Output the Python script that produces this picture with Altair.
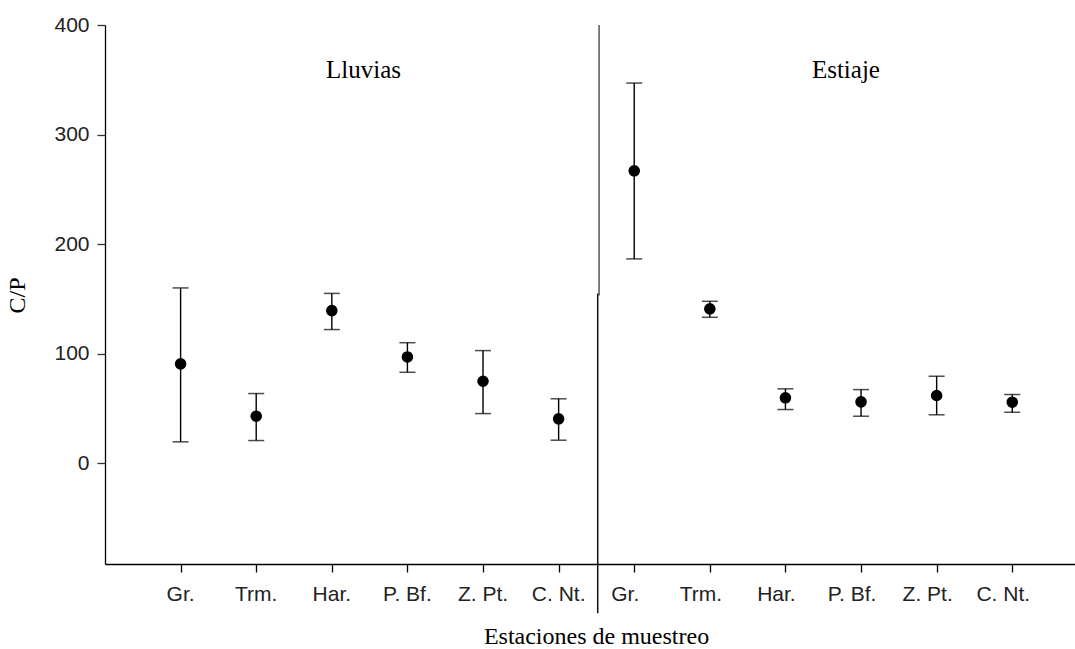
import altair as alt
import pandas as pd

# Sampling stations, repeated for each season
stations = ["Gr.", "Trm.", "Har.", "P. Bf.", "Z. Pt.", "C. Nt."]
seasons = ["Lluvias", "Estiaje"]

# C/P ratio: mean and error-bar limits per station
mean_lluvias = [90.7, 42.9, 139.3, 97.0, 74.8, 40.5]
upper_lluvias = [160.0, 63.6, 155.0, 110.0, 102.8, 58.8]
lower_lluvias = [19.5, 20.7, 122.0, 83.0, 45.3, 21.0]

mean_estiaje = [266.9, 140.9, 59.7, 56.0, 61.8, 55.7]
upper_estiaje = [347.0, 147.8, 67.9, 67.2, 79.4, 62.7]
lower_estiaje = [186.5, 133.2, 49.0, 42.9, 44.2, 46.5]

y_ticks = [0, 100, 200, 300, 400]
y_min, y_max = -92, 400
x_min, x_max = -1, 11.83

rows = []
for s_i, (season, means, ups, lows) in enumerate([
    ("Lluvias", mean_lluvias, upper_lluvias, lower_lluvias),
    ("Estiaje", mean_estiaje, upper_estiaje, lower_estiaje),
]):
    for i, st in enumerate(stations):
        rows.append({
            "pos": s_i * len(stations) + i,
            "station": st,
            "season": season,
            "mean": means[i],
            "hi": ups[i],
            "lo": lows[i],
            "base": y_min,
        })
df = pd.DataFrame(rows)

# Season headings and the divider between the two seasons
headings = pd.DataFrame({"season": seasons, "pos": [2.42, 8.8], "y": [352.0, 352.0]})
divider = pd.DataFrame({
    "pos": [5.535, 5.517],
    "top": [400.0, 155.0],
    "bottom": [153.0, -137.0],
    "color": ["#555555", "#111111"],
})

x_scale = alt.Scale(domain=[x_min, x_max], nice=False, zero=False)
y_scale = alt.Scale(domain=[y_min, y_max], nice=False, zero=False)

x_axis = alt.Axis(
    values=list(range(12)), labels=False, grid=False,
    tickSize=8, tickColor="black", tickWidth=1.3,
    domainColor="black", domainWidth=1.3,
    title="Estaciones de muestreo", titleFont="Liberation Serif",
    titleFontSize=24, titleFontWeight="normal", titleColor="black",
    titleX=491, titleY=79, titleAlign="center", titleBaseline="alphabetic",
)
y_axis = alt.Axis(
    values=y_ticks, grid=False,
    tickSize=8, tickColor="#333333", tickWidth=1.3,
    domainColor="black", domainWidth=1.3,
    labelFont="Liberation Sans", labelFontSize=21, labelColor="#222222",
    labelPadding=8,
    title="C/P", titleFont="Liberation Serif", titleFontSize=24,
    titleFontWeight="normal", titleColor="black", titleAngle=270,
    titleX=-76, titleY=270, titleAlign="center", titleBaseline="bottom",
)

X = alt.X("pos:Q", scale=x_scale, axis=x_axis, title="Estaciones de muestreo")


def Y(field):
    return alt.Y(f"{field}:Q", scale=y_scale, axis=y_axis, title="C/P")


base = alt.Chart(df)

bars = base.mark_rule(color="black", strokeWidth=1.4).encode(x=X, y=Y("lo"), y2="hi:Q")
caps_hi = base.mark_tick(color="black", orient="horizontal", size=16, thickness=1.5).encode(x=X, y=Y("hi"))
caps_lo = base.mark_tick(color="black", orient="horizontal", size=16, thickness=1.5).encode(x=X, y=Y("lo"))
points = base.mark_circle(color="black", size=135, opacity=1).encode(x=X, y=Y("mean"))

label_style = dict(font="Liberation Sans", fontSize=21, color="#222222",
                   baseline="alphabetic", align="center", dy=37)
labels_left = base.transform_filter(alt.datum.season == "Lluvias").mark_text(**label_style).encode(
    x=X, y=Y("base"), text="station:N")
labels_right = base.transform_filter(alt.datum.season == "Estiaje").mark_text(dx=-9, **label_style).encode(
    x=X, y=Y("base"), text="station:N")

heading_text = alt.Chart(headings).mark_text(
    font="Liberation Serif", fontSize=25, color="black", baseline="alphabetic", align="center"
).encode(x=X, y=Y("y"), text="season:N")

divider_rules = alt.Chart(divider).mark_rule(strokeWidth=1.5, clip=False).encode(
    x=X, y=Y("top"), y2="bottom:Q", color=alt.Color("color:N", scale=None)
)

chart = alt.layer(
    divider_rules, bars, caps_hi, caps_lo, points, labels_left, labels_right, heading_text
).properties(
    width=970, height=539,
    autosize=alt.AutoSizeParams(type="none"),
    padding={"left": 105, "top": 25, "right": 0, "bottom": 85},
    background="white",
).configure_view(stroke=None)

chart.save("out.html", embed_options={"renderer": "svg", "actions": False})
